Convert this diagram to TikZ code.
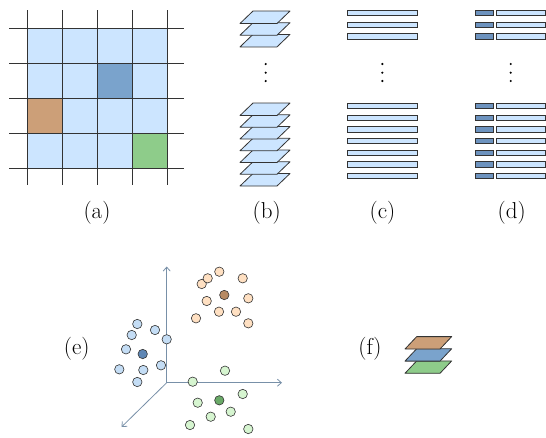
\documentclass[tikz,border=0pt]{standalone}
\usetikzlibrary{arrows.meta}
\definecolor{lblue}{HTML}{CCE5FF}
\definecolor{dblue}{HTML}{7AA3CC}
\definecolor{dkbar}{HTML}{6D93BF}
\definecolor{brown1}{HTML}{CC9F78}
\definecolor{green1}{HTML}{8ECC8A}
\definecolor{edge}{HTML}{333333}
\definecolor{axiscol}{HTML}{7890A8}
\definecolor{peach}{HTML}{FFE0C2}
\definecolor{peachd}{HTML}{B78A63}
\definecolor{bluept}{HTML}{C4DDF5}
\definecolor{bluedk}{HTML}{5F87B5}
\definecolor{greenpt}{HTML}{D6F5D0}
\definecolor{greendk}{HTML}{6AAA68}
\tikzset{
  gridline/.style={draw=edge, line width=1pt},
  plane/.style={draw=edge, line width=0.8pt, line join=round, fill=lblue},
  barbox/.style={draw=edge, line width=0.8pt, fill=lblue},
  darkbar/.style={draw=edge, line width=0.8pt, fill=dkbar},
  axisline/.style={draw=axiscol, line width=0.8pt, -{Straight Barb[length=4pt,width=7pt]}},
  pt/.style={draw=edge, line width=0.6pt},
  lab/.style={font=\fontsize{23}{28}\selectfont, inner sep=0pt},
  dot/.style={fill=black}
}
\begin{document}
\begin{tikzpicture}[x=1pt,y=-1pt]
\useasboundingbox (0,0) rectangle (546,437);
% (a) grid
\fill[lblue] (27,28) rectangle (167,168);
\fill[dblue] (97,63) rectangle (132,98);
\fill[brown1] (27,98) rectangle (62,133);
\fill[green1] (132,133) rectangle (167,168);
\foreach \y in {28,63,98,133,168} \draw[gridline] (9,\y) -- (184,\y);
\foreach \x in {27,62,97,132,167} \draw[gridline] (\x,10) -- (\x,185);
\node[lab] (la) at (97,213) {(a)};
% (b) planes
\foreach \b in {46.9,35.2,23.5}
  \draw[plane] (240,\b) -- ++(37,0) -- ++(13,-12.5) -- ++(-37,0) -- cycle;
\foreach \i in {6,5,...,0}
  \draw[plane] (240,115.5+11.75*\i) -- ++(37,0) -- ++(13,-12.5) -- ++(-37,0) -- cycle;
\foreach \y in {64,72.7,81} \fill (265.7,\y) circle (1.2);
\node[lab] (lb) at (266.7,213) {(b)};
% (c) bars
\foreach \y in {13,24.7,36.4} \draw[barbox] (347.3,\y-2.6) rectangle (417.3,\y+2.6);
\foreach \i in {0,...,6} \draw[barbox] (347.3,106+11.67*\i-2.6) rectangle (417.3,106+11.67*\i+2.6);
\foreach \y in {64,72.7,81} \fill (382.3,\y) circle (1.2);
\node[lab] (lc) at (382.5,213) {(c)};
% (d) bars
\foreach \y in {13,24.7,36.4} {
  \draw[darkbar] (475.3,\y-2.6) rectangle (493.7,\y+2.6);
  \draw[barbox] (496,\y-2.6) rectangle (545.4,\y+2.6);
}
\foreach \i in {0,...,6} {
  \draw[darkbar] (475.3,106+11.67*\i-2.6) rectangle (493.7,106+11.67*\i+2.6);
  \draw[barbox] (496,106+11.67*\i-2.6) rectangle (545.4,106+11.67*\i+2.6);
}
\foreach \y in {64,72.7,81} \fill (510.7,\y) circle (1.2);
\node[lab] (ld) at (511.7,213) {(d)};
% (e) scatter
\coordinate (O) at (166.7,382.7);
\coordinate (Y) at (166.7,266.5);
\coordinate (X) at (282,382.7);
\coordinate (Z) at (121.5,427);
\draw[axisline] (O) -- (Y);
\draw[axisline] (O) -- (X);
\draw[axisline] (O) -- (Z);
\foreach \p in {(137.3,324),(131.7,335),(155,330),(166.7,339.3),(126,349.3),(119.3,369.3),(143.3,370),(161,365.3),(137.3,382)}
  \draw[pt, fill=bluept] \p circle (4.7);
\draw[pt, fill=bluedk] (142.7,354) circle (4.7);
\foreach \p in {(201.7,284),(207.7,278.3),(219.3,271.7),(242.7,278.3),(206.7,301),(248.3,298.3),(219,311.7),(236,311.7),(196,318.3),(248.3,323.3)}
  \draw[pt, fill=peach] \p circle (4.7);
\draw[pt, fill=peachd] (224.3,295) circle (4.7);
\foreach \p in {(225,370.7),(192.7,381.7),(242.7,394),(197.7,402.7),(230.7,411.7),(210.7,416.7),(190,425),(248.3,429)}
  \draw[pt, fill=greenpt] \p circle (4.7);
\draw[pt, fill=greendk] (219.3,400.3) circle (4.7);
\node[lab] (le) at (76.7,349) {(e)};
% (f) planes
\draw[plane, fill=green1] (405,373.3) -- ++(35,0) -- ++(11.7,-12.4) -- ++(-35,0) -- cycle;
\draw[plane, fill=dblue] (405,361.1) -- ++(35,0) -- ++(11.7,-12.4) -- ++(-35,0) -- cycle;
\draw[plane, fill=brown1] (405,349) -- ++(35,0) -- ++(11.7,-12.4) -- ++(-35,0) -- cycle;
\node[lab] (lf) at (370,349) {(f)};
\end{tikzpicture}
\end{document}
